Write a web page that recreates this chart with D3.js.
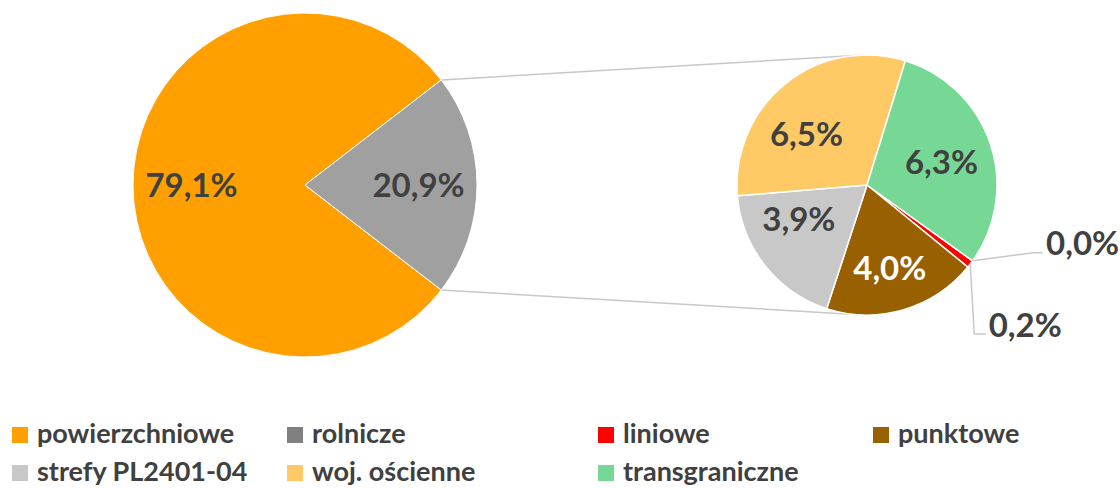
<!DOCTYPE html>
<html>
<head>
<meta charset="utf-8">
<script src="https://cdn.jsdelivr.net/npm/d3@7"></script>
<style>
  body { margin: 0; background: #fff; }
  text { font-family: Lato, "Open Sans", sans-serif; font-weight: bold; fill: #404040; }
</style>
</head>
<body>
<svg id="chart" width="1120" height="488"></svg>
<script>
// data (percent of total)
const categories = ['powierzchniowe', 'rolnicze', 'liniowe', 'punktowe', 'strefy PL2401-04', 'woj. ościenne', 'transgraniczne'];
const values = [79.1, 0.0, 0.2, 4.0, 3.9, 6.5, 6.3];
const colors = ['#FFA000', '#808080', '#FF0000', '#996000', '#C8C8C8', '#FFC966', '#77D895'];
const otherColor = '#A0A0A0';

const svg = d3.select('#chart');
const fmt = v => v.toFixed(1).replace('.', ',') + '%';
const rad = deg => deg * Math.PI / 180;

// main pie: first category + "other" (sum of the rest)
const otherValue = d3.sum(values.slice(1));
const mainData = [
  { name: categories[0], value: values[0], color: colors[0] },
  { name: 'other', value: otherValue, color: otherColor }
];
const total = d3.sum(mainData, d => d.value);

const main = { cx: 305, cy: 185, r: 172 };
const second = { cx: 867, cy: 185, r: 130 };

// other slice centered at 3 o'clock
const otherSpan = otherValue / total * 2 * Math.PI;
const mainPie = d3.pie().sort(null).value(d => d.value)
  .startAngle(Math.PI / 2 + otherSpan / 2)
  .endAngle(Math.PI / 2 + otherSpan / 2 + 2 * Math.PI);
const mainArcs = mainPie(mainData);

// secondary pie
const secData = categories.slice(1).map((c, i) => ({ name: c, value: values[i + 1], color: colors[i + 1] }));
const secStart = rad(125.7);
const secPie = d3.pie().sort(null).value(d => d.value)
  .startAngle(secStart).endAngle(secStart + 2 * Math.PI);
const secArcs = secPie(secData);

// connector lines: from edges of the other slice, tangent to the second pie
const otherArc = mainArcs[1];
const edgePt = a => [main.cx + main.r * Math.sin(a), main.cy - main.r * Math.cos(a)];
const pTop = edgePt(otherArc.startAngle);
const pBot = edgePt(otherArc.endAngle);
function tangent(p, sign) {
  const dx = p[0] - second.cx, dy = p[1] - second.cy;
  const d = Math.hypot(dx, dy);
  const base = Math.atan2(dy, dx);
  const a = base + sign * Math.acos(second.r / d);
  return [second.cx + second.r * Math.cos(a), second.cy + second.r * Math.sin(a)];
}
const tTop = tangent(pTop, 1);
const tBot = tangent(pBot, -1);
[[pTop, tTop], [pBot, tBot]].forEach(([a, b]) => {
  svg.append('line')
    .attr('x1', a[0]).attr('y1', a[1])
    .attr('x2', b[0]).attr('y2', b[1])
    .attr('stroke', '#C8C8C8').attr('stroke-width', 1.5);
});

// draw main pie
const mainG = svg.append('g').attr('transform', `translate(${main.cx},${main.cy})`);
const mainArc = d3.arc().innerRadius(0).outerRadius(main.r);
mainG.selectAll('path').data(mainArcs).join('path')
  .attr('d', mainArc)
  .attr('fill', d => d.data.color)
  .attr('stroke', '#fff').attr('stroke-width', 1);

const mainLabelArc = d3.arc().innerRadius(main.r * 0.66).outerRadius(main.r * 0.66);
mainG.selectAll('text').data(mainArcs).join('text')
  .attr('transform', d => `translate(${mainLabelArc.centroid(d)})`)
  .attr('text-anchor', 'middle')
  .attr('dy', '0.36em')
  .style('font-size', '33px')
  .text(d => fmt(d.data.value));

// draw secondary pie
const secG = svg.append('g').attr('transform', `translate(${second.cx},${second.cy})`);
const secArc = d3.arc().innerRadius(0).outerRadius(second.r);
secG.selectAll('path').data(secArcs).join('path')
  .attr('d', secArc)
  .attr('fill', d => d.data.color)
  .attr('stroke', '#fff').attr('stroke-width', 1.5);

// small nudges of the inside labels (best-fit placement in the original)
const labelNudge = {
  'punktowe': [0, 6],
  'strefy PL2401-04': [-5, -16],
  'woj. ościenne': [-10, 12],
  'transgraniczne': [-2, 3]
};
const inside = secArcs.filter(d => d.data.value >= 1);
const outside = secArcs.filter(d => d.data.value < 1);
const secLabelArc = d3.arc().innerRadius(second.r * 0.62).outerRadius(second.r * 0.62);
secG.selectAll('text.in').data(inside).join('text')
  .attr('class', 'in')
  .attr('transform', d => {
    const c = secLabelArc.centroid(d);
    const n = labelNudge[d.data.name] || [0, 0];
    return `translate(${c[0] + n[0]},${c[1] + n[1]})`;
  })
  .attr('text-anchor', 'middle')
  .attr('dy', '0.36em')
  .style('font-size', '33px')
  .style('fill', d => d.data.name === 'punktowe' ? '#fff' : '#404040')
  .text(d => fmt(d.data.value));

// outside labels for tiny slices, with leader lines (moved by hand in the original)
const outsideLayout = [
  { elbow: [60, -8], end: [70, -8], label: [110, -18] },
  { elbow: [4, 70], end: [16, 70], label: [55, 61] }
];
outside.forEach((d, i) => {
  const a = (d.startAngle + d.endAngle) / 2;
  const p = [second.r * Math.sin(a), -second.r * Math.cos(a)];
  const L = outsideLayout[i];
  secG.append('polyline')
    .attr('points', [p, [p[0] + L.elbow[0], p[1] + L.elbow[1]], [p[0] + L.end[0], p[1] + L.end[1]]].map(q => q.join(',')).join(' '))
    .attr('fill', 'none')
    .attr('stroke', '#C8C8C8').attr('stroke-width', 1.5);
  secG.append('text')
    .attr('x', p[0] + L.label[0]).attr('y', p[1] + L.label[1])
    .attr('text-anchor', 'middle')
    .attr('dy', '0.36em')
    .style('font-size', '33px')
    .text(fmt(d.data.value));
});

// legend
const legendCols = [12, 287, 598, 873];
const legendRows = [443, 481];
const legend = svg.append('g');
categories.forEach((c, i) => {
  const x = legendCols[i % 4];
  const y = legendRows[Math.floor(i / 4)];
  legend.append('rect')
    .attr('x', x).attr('y', y - 16)
    .attr('width', 16).attr('height', 16)
    .attr('fill', colors[i]);
  legend.append('text')
    .attr('x', x + 25).attr('y', y)
    .style('font-size', '27px')
    .text(c);
});
</script>
</body>
</html>
